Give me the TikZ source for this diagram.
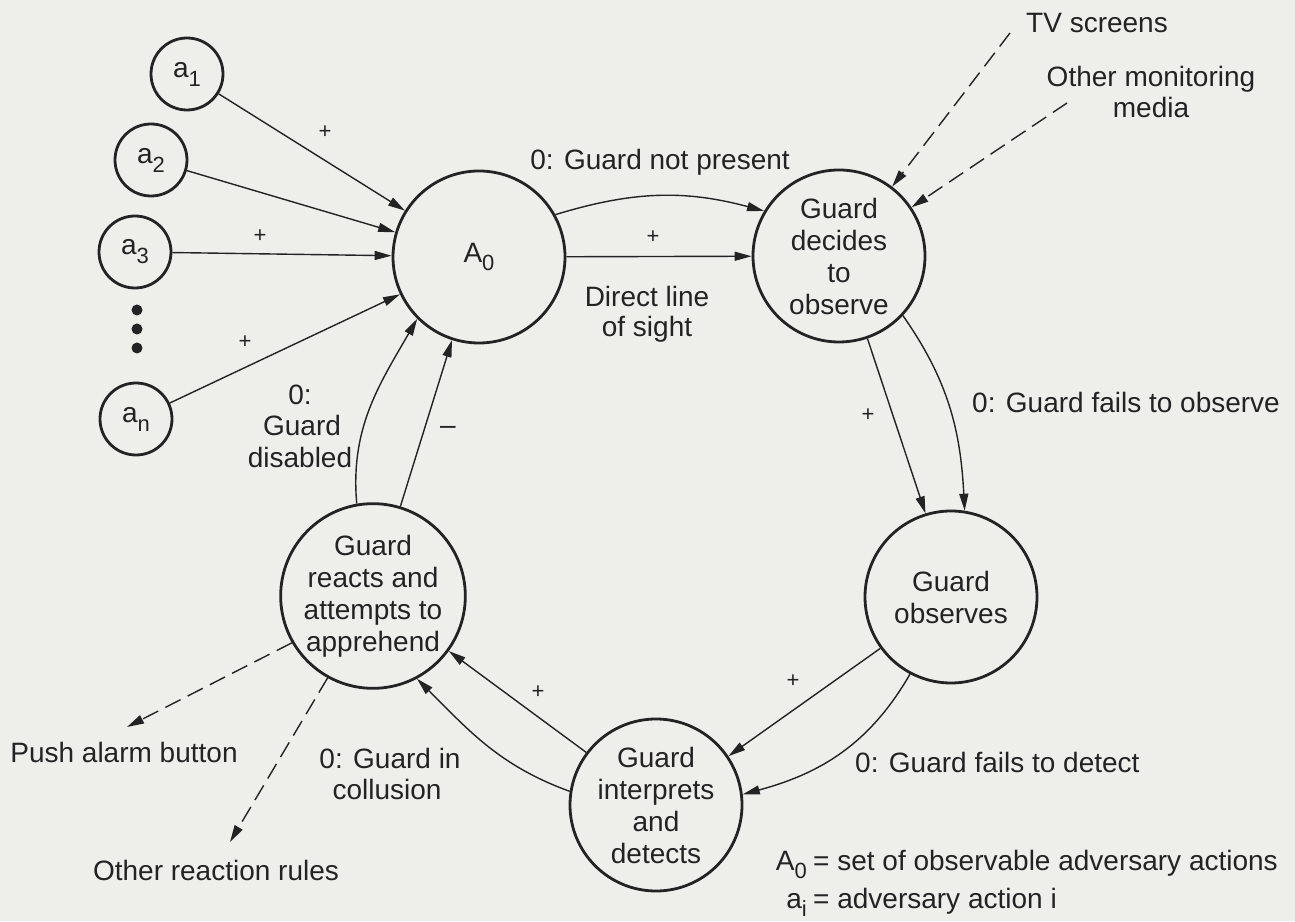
\documentclass[tikz,border=0pt]{standalone}
\usepackage{fontspec}
\setmainfont{Liberation Sans}
\usetikzlibrary{arrows.meta}
\definecolor{paper}{RGB}{238,238,235}
\definecolor{ink}{RGB}{35,35,35}
% lowered subscript in the style of the typeset labels
\newcommand\lowsub[1]{\raisebox{-0.32em}{\fontsize{22}{22}\selectfont #1}}

\begin{document}
\begin{tikzpicture}[x=1pt,y=1pt,
  every node/.style={text=ink},
  txt/.style={font=\fontsize{28}{31}\selectfont, inner sep=0pt},
  state/.style={circle, draw=ink, line width=2.8pt, minimum size=172pt, inner sep=0pt,
                align=center, font=\fontsize{28}{32}\selectfont},
  act/.style={circle, draw=ink, line width=2.8pt, minimum size=72pt, inner sep=0pt,
              font=\fontsize{28}{32}\selectfont},
  dotmark/.style={circle, fill=ink, minimum size=11pt, inner sep=0pt},
  link/.style={draw=ink, line width=1.4pt, -{Triangle[length=17pt,width=9pt]}},
  feed/.style={link, dash pattern=on 17pt off 8pt},
  sign/.style={font=\fontsize{22}{22}\selectfont, inner sep=0pt},
]
\fill[paper] (0,0) rectangle (1295,921);
\useasboundingbox (0,0) rectangle (1295,921);

% adversary actions
\node[act] (a1) at (187,847) {a\lowsub{1}};
\node[act] (a2) at (151,761) {a\lowsub{2}};
\node[act] (a3) at (135,669) {a\lowsub{3}};
\node[dotmark] (d1) at (137,611) {};
\node[dotmark] (d2) at (137,592) {};
\node[dotmark] (d3) at (137,573) {};
\node[act] (an) at (136,502) {a\lowsub{n}};

% guard states
\node[state] (A0) at (479,664) {A\lowsub{0}};
\node[state] (GD) at (839,665) {Guard\\decides\\to\\observe};
\node[state] (GO) at (951,324) {Guard\\observes};
\node[state] (GI) at (656,116) {Guard\\interprets\\and\\detects};
\node[state] (GR) at (373,325) {Guard\\reacts and\\attempts to\\apprehend};

% free ends of the dashed connectors
\coordinate (tv) at (1010,888);
\coordinate (om) at (1067,818);
\coordinate (pa) at (127,194);
\coordinate (orr) at (230,79);

% connectors
\draw[link] (a1) -- (A0);
\draw[link] (a2) -- (A0);
\draw[link] (a3) -- (A0);
\draw[link] (an) -- (A0);
\draw[link] (A0) -- (GD);
\draw[link] (A0.29) to[bend left=16] (GD.149);
\draw[link] (GD.-71) -- (GO.107);
\draw[link] (GD.-43) to[out=-55,in=93] (GO.81);
\draw[link] (GO.216) -- (GI.34);
\draw[link] (GO.242) to[out=-120,in=15] (GI.7);
\draw[link] (GI.143) -- (GR.-36);
\draw[link] (GI.171) to[out=160,in=-45] (GR.-62);
\draw[link] (GR.73) -- (A0.-108);
\draw[link] (GR.100) to[out=95,in=-120] (A0.225);
\draw[feed] (tv) -- (GD);
\draw[feed] (om) -- (GD);
\draw[feed] (GR.210) -- (pa);
\draw[feed] (GR.-119) -- (orr);

% signs on connectors
\node[sign] (s1) at (325,789) {+};
\node[sign] (s3) at (260,685) {+};
\node[sign] (sn) at (245,579) {+};
\node[sign] (sd) at (653,684) {+};
\node[sign] (so) at (868,506) {+};
\node[sign] (si) at (793,240) {+};
\node[sign] (sr) at (538,229) {+};
\node[txt] (sm) at (448,491) {–};

% connector labels
\node[txt, anchor=base] (ltv) at (1097,888) {TV screens};
\node[txt, anchor=base] (lom1) at (1151,834) {Other monitoring};
\node[txt, anchor=base] (lom2) at (1151,803) {media};
\node[txt, anchor=base] (lnp) at (660,751) {0: Guard not present};
\node[txt, anchor=base] (lds1) at (647,614) {Direct line};
\node[txt, anchor=base] (lds2) at (647,584) {of sight};
\node[txt, anchor=base west] (lfo) at (972,508) {0: Guard fails to observe};
\node[txt, anchor=base west] (lfd) at (855,149) {0: Guard fails to detect};
\node[txt, anchor=base] (lgc1) at (390,153) {0: Guard in};
\node[txt, anchor=base] (lgc2) at (387,122) {collusion};
\node[txt, anchor=base] (lgd1) at (300,516) {0:};
\node[txt, anchor=base] (lgd2) at (302,485) {Guard};
\node[txt, anchor=base] (lgd3) at (300,453) {disabled};
\node[txt, anchor=base] (lpa) at (124,158) {Push alarm button};
\node[txt, anchor=base] (lor) at (216,41) {Other reaction rules};

% key
\node[txt, anchor=base east] (k1a) at (807,51) {A\lowsub{0}};
\node[txt, anchor=base west] (k1b) at (813,51) {= set of observable adversary actions};
\node[txt, anchor=base east] (k2a) at (807,13) {a\lowsub{i}};
\node[txt, anchor=base west] (k2b) at (813,13) {= adversary action i};
\end{tikzpicture}
\end{document}
